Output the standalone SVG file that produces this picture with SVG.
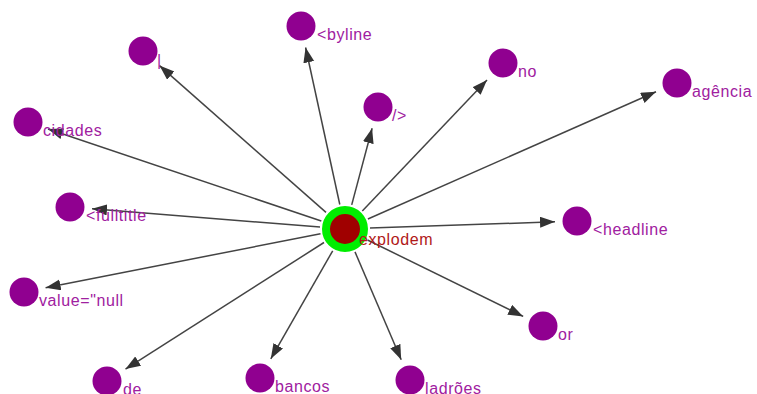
<svg xmlns="http://www.w3.org/2000/svg" width="757" height="394" viewBox="0 0 757 394">
<defs>
<style>
.edge{stroke:#444;stroke-width:1.5;fill:none;marker-end:url(#arr)}
.node{fill:#900090}
.lbl{font-family:"Liberation Sans",Arial,sans-serif;font-size:16px;fill:#a020a0;letter-spacing:0.6px}
.clbl{font-family:"Liberation Sans",Arial,sans-serif;font-size:16px;fill:#b01818;letter-spacing:0.6px}
</style>
<marker id="arr" markerUnits="userSpaceOnUse" markerWidth="16" markerHeight="12" refX="15" refY="5.5" orient="auto">
<path d="M0,0 L15,5.5 L0,11 z" fill="#333"/>
</marker>
</defs>
<rect width="757" height="394" fill="#fff"/>
<g id="edges">
<line class="edge" x1="326" y1="212.4" x2="159.5" y2="65.6"/>
<line class="edge" x1="339.8" y1="204.5" x2="305.6" y2="47.5"/>
<line class="edge" x1="351.7" y1="204.9" x2="372.1" y2="128.2"/>
<line class="edge" x1="362.3" y1="210.9" x2="487" y2="80"/>
<line class="edge" x1="367.9" y1="219" x2="656" y2="91.8"/>
<line class="edge" x1="321.3" y1="221" x2="48" y2="129"/>
<line class="edge" x1="320" y1="227" x2="92" y2="208.8"/>
<line class="edge" x1="370" y1="228.1" x2="555" y2="221.8"/>
<line class="edge" x1="320.5" y1="233.8" x2="45.6" y2="287.7"/>
<line class="edge" x1="367.5" y1="240" x2="523.2" y2="316.4"/>
<line class="edge" x1="324" y1="242.5" x2="125.5" y2="369.1"/>
<line class="edge" x1="332.7" y1="250.8" x2="270.8" y2="358.8"/>
<line class="edge" x1="355" y1="251.9" x2="401.2" y2="359.8"/>
</g>
<g id="n-explodem">
<circle cx="345" cy="229" r="19" fill="#a00000" stroke="#00ee00" stroke-width="8"/>
<text class="clbl" x="359" y="245">explodem</text>
</g>
<g id="n-pipe"><circle class="node" cx="143" cy="51" r="14.5"/><text class="lbl" x="157" y="66">|</text></g>
<g id="n-byline"><circle class="node" cx="301" cy="26" r="14.5"/><text class="lbl" x="317" y="40">&lt;byline</text></g>
<g id="n-slash"><circle class="node" cx="378" cy="107" r="14.5"/><text class="lbl" x="392" y="121">/&gt;</text></g>
<g id="n-no"><circle class="node" cx="503" cy="63" r="14.5"/><text class="lbl" x="518" y="77">no</text></g>
<g id="n-agencia"><circle class="node" cx="677" cy="83" r="14.5"/><text class="lbl" x="692" y="97">agência</text></g>
<g id="n-cidades"><circle class="node" cx="28" cy="122" r="14.5"/><text class="lbl" x="43" y="136">cidades</text></g>
<g id="n-fulltitle"><circle class="node" cx="70" cy="207" r="14.5"/><text class="lbl" x="86" y="221">&lt;fulltitle</text></g>
<g id="n-headline"><circle class="node" cx="577" cy="221" r="14.5"/><text class="lbl" x="593" y="235">&lt;headline</text></g>
<g id="n-value"><circle class="node" cx="24" cy="292" r="14.5"/><text class="lbl" x="39" y="306">value="null</text></g>
<g id="n-or"><circle class="node" cx="543" cy="326" r="14.5"/><text class="lbl" x="558" y="340">or</text></g>
<g id="n-de"><circle class="node" cx="107" cy="381" r="14.5"/><text class="lbl" x="123" y="395">de</text></g>
<g id="n-bancos"><circle class="node" cx="260" cy="378" r="14.5"/><text class="lbl" x="275" y="392">bancos</text></g>
<g id="n-ladroes"><circle class="node" cx="410" cy="380" r="14.5"/><text class="lbl" x="425" y="394">ladrões</text></g>
</svg>
